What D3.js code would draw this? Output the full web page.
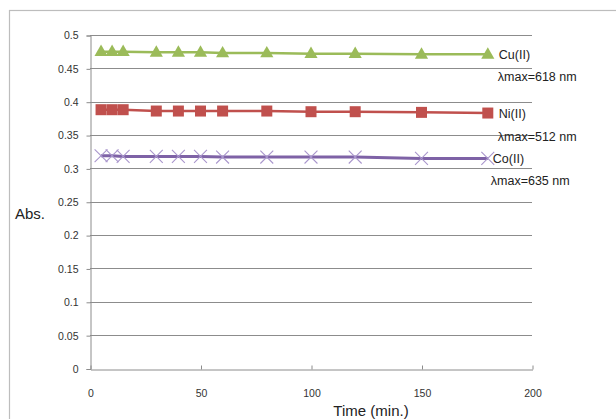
<!DOCTYPE html>
<html><head><meta charset="utf-8">
<script src="https://cdn.jsdelivr.net/npm/d3@7"></script>
<style>
body{margin:0;background:#fff;}
svg{display:block;font-family:"Liberation Sans Narrow","Arial Narrow","Liberation Sans",Arial,sans-serif;}
</style></head><body>
<svg id="c" width="616" height="419"></svg>
<script>
const times = [5,10,15,30,40,50,60,80,100,120,150,180];
const cuValues = [0.475,0.475,0.475,0.474,0.474,0.474,0.473,0.473,0.472,0.472,0.471,0.471];
const niValues = [0.388,0.388,0.388,0.386,0.386,0.386,0.386,0.386,0.385,0.385,0.384,0.383];
const coValues = [0.319,0.319,0.318,0.318,0.318,0.318,0.317,0.317,0.317,0.317,0.315,0.315];
const xTicks = [0,50,100,150,200];
const yTicks = [0,0.05,0.1,0.15,0.2,0.25,0.3,0.35,0.4,0.45,0.5];
const seriesNames = ["Cu(II)","Ni(II)","Co(II)"];
const lambdaLabels = ["λmax=618 nm","λmax=512 nm","λmax=635 nm"];

const svg = d3.select("#c");
const x = d3.scaleLinear().domain([0,200]).range([90,532]);
const y = d3.scaleLinear().domain([0,0.5]).range([368.5,35]);

// outer frame
svg.append("rect").attr("x",9.5).attr("y",10.5).attr("width",640).attr("height",420)
  .attr("fill","none").attr("stroke","#bdbdbd").attr("stroke-width",1.2);

// gridlines
svg.append("g").selectAll("line").data(yTicks.filter(d=>d>0)).join("line")
  .attr("x1",x(0)).attr("x2",x(200)).attr("y1",d=>Math.round(y(d))+0.5).attr("y2",d=>Math.round(y(d))+0.5)
  .attr("stroke","#8c8c8c").attr("stroke-width",1);

// y axis
const yAxis = d3.axisLeft(y).tickValues(yTicks).tickSize(4).tickPadding(8)
  .tickFormat(d=>d===0?"0":String(+d.toFixed(2)));
const gy = svg.append("g").attr("transform",`translate(${x(0)+0.5},0.5)`).call(yAxis);
gy.select(".domain").attr("stroke","#8c8c8c");
gy.selectAll(".tick line").attr("stroke","#8c8c8c");
gy.selectAll(".tick text").attr("font-size",10.5).attr("fill","#333").style("font-family","inherit");

// x axis
const xAxis = d3.axisBottom(x).tickValues(xTicks).tickSizeInner(-4).tickSizeOuter(0).tickPadding(20);
const gx = svg.append("g").attr("transform",`translate(0.5,${Math.round(y(0))+0.5})`).call(xAxis);
gx.select(".domain").attr("stroke","#8c8c8c");
gx.selectAll(".tick line").attr("stroke","#8c8c8c");
gx.selectAll(".tick text").attr("font-size",10.5).attr("fill","#333").style("font-family","inherit");

const line = d3.line().x(d=>x(d[0])).y(d=>y(d[1]));
const mk = vals => times.map((t,i)=>[t,vals[i]]);

// Cu
const cu = mk(cuValues);
svg.append("path").datum(cu).attr("d",line).attr("fill","none").attr("stroke","#9BBB59").attr("stroke-width",2.5);
svg.append("g").selectAll("path").data(cu).join("path")
  .attr("d",d3.symbol(d3.symbolTriangle,75)).attr("transform",d=>`translate(${x(d[0])},${y(d[1])+0.5})`)
  .attr("fill","#9BBB59");

// Ni
const ni = mk(niValues);
svg.append("path").datum(ni).attr("d",line).attr("fill","none").attr("stroke","#C0504D").attr("stroke-width",2.5);
svg.append("g").selectAll("rect").data(ni).join("rect")
  .attr("x",d=>x(d[0])-5.5).attr("y",d=>y(d[1])-5.5).attr("width",11).attr("height",11)
  .attr("fill","#C0504D");

// Co
const co = mk(coValues);
svg.append("path").datum(co).attr("d",line).attr("fill","none").attr("stroke","#7E62A6").attr("stroke-width",3);
svg.append("g").selectAll("path").data(co).join("path")
  .attr("d",d3.symbol(d3.symbolX,110)).attr("transform",d=>`translate(${x(d[0])},${y(d[1])})`)
  .attr("fill","none").attr("stroke","#A996CC").attr("stroke-width",1.1);

// annotations
const ann = [
  {name:seriesNames[0], lam:lambdaLabels[0], v:cuValues[cuValues.length-1], dx:11, dx2:10, dy2:22},
  {name:seriesNames[1], lam:lambdaLabels[1], v:niValues[niValues.length-1], dx:11, dx2:10, dy2:23},
  {name:seriesNames[2], lam:lambdaLabels[2], v:coValues[coValues.length-1], dx:5, dx2:3, dy2:22}
];
ann.forEach(a=>{
  const bx = x(180), by = y(a.v);
  svg.append("text").attr("x",bx+a.dx).attr("y",by+5).text(a.name)
    .attr("font-size",12.5).attr("fill","#222");
  svg.append("text").attr("x",bx+a.dx2).attr("y",by+5+a.dy2).text(a.lam)
    .attr("font-size",12.5).attr("fill","#222");
});

// axis titles
svg.append("text").attr("x",15).attr("y",219).text("Abs.").attr("font-size",15).attr("fill","#222");
svg.append("text").attr("x",371).attr("y",416).attr("text-anchor","middle").text("Time (min.)")
  .attr("font-size",15).attr("fill","#222");
</script>
</body></html>
